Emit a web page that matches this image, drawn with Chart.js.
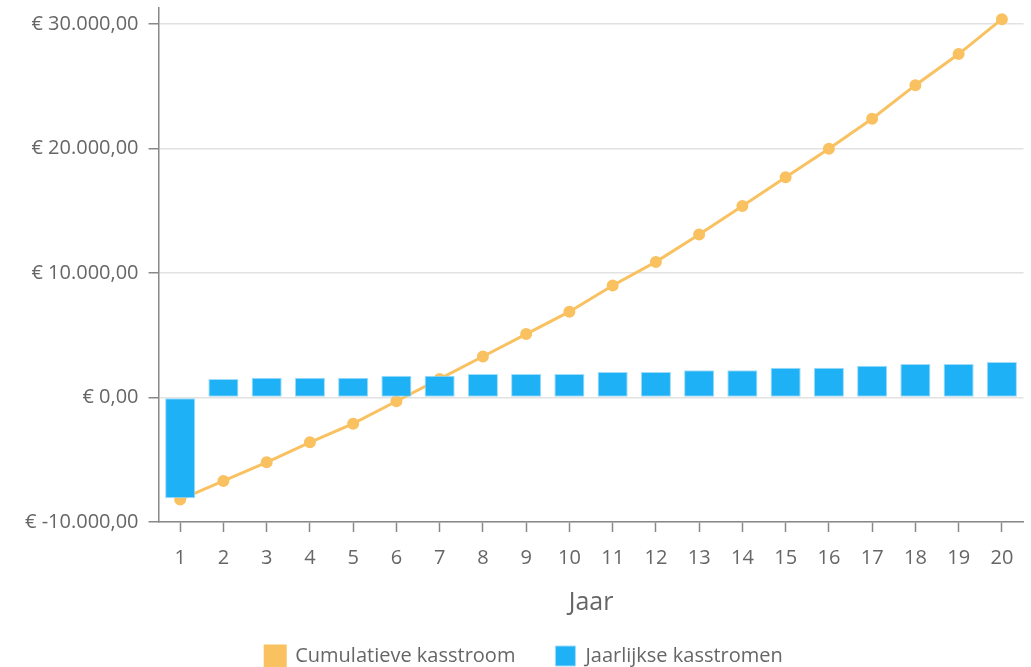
<!DOCTYPE html>
<html>
<head>
<meta charset="utf-8">
<script src="https://cdn.jsdelivr.net/npm/chart.js@4.4.1/dist/chart.umd.min.js"></script>
<style>
  html, body { margin: 0; padding: 0; background: #fff; }
  #wrap { width: 1031px; height: 667px; position: relative; }
</style>
</head>
<body>
<div id="wrap"><canvas id="cashChart"></canvas></div>
<script>
// Kasstromen per jaar
const years = ['1', '2', '3', '4', '5', '6', '7', '8', '9', '10',
  '11', '12', '13', '14', '15', '16', '17', '18', '19', '20'];

const cumulative = [-8200, -6700, -5200, -3600, -2100, -300, 1500, 3300, 5100, 6900,
  9000, 10900, 13100, 15400, 17700, 20000, 22400, 25100, 27600, 30400];

const yearly = [-8100, 1500, 1600, 1600, 1600, 1750, 1750, 1900, 1900, 1900,
  2050, 2050, 2200, 2200, 2400, 2400, 2550, 2700, 2700, 2850];

const yTickValues = [-10000, 0, 10000, 20000, 30000];

const orange = '#F9C160';
const blue = '#1EB1F5';
const greyText = '#666666';

function euro(v) {
  const neg = v < 0;
  const parts = Math.abs(v).toFixed(2).split('.');
  const intPart = parts[0].replace(/\B(?=(\d{3})+(?!\d))/g, '.');
  return '€ ' + (neg ? '-' : '') + intPart + ',' + parts[1];
}

Chart.defaults.font.family = '"Open Sans", "Noto Sans", sans-serif';
Chart.defaults.font.size = 20;
Chart.defaults.color = greyText;

const ctx = document.getElementById('cashChart').getContext('2d');
new Chart(ctx, {
  type: 'bar',
  data: {
    labels: years,
    datasets: [
      {
        type: 'line',
        label: 'Cumulatieve kasstroom',
        data: cumulative,
        borderColor: orange,
        backgroundColor: orange,
        pointBackgroundColor: orange,
        pointBorderColor: orange,
        pointRadius: 4.5,
        borderWidth: 3,
        tension: 0,
        order: 2
      },
      {
        type: 'bar',
        label: 'Jaarlijkse kasstromen',
        data: yearly,
        backgroundColor: blue,
        borderColor: '#9fdcfa',
        borderWidth: 1,
        borderSkipped: false,
        categoryPercentage: 0.8,
        barPercentage: 0.87,
        order: 1
      }
    ]
  },
  options: {
    responsive: true,
    maintainAspectRatio: false,
    animation: false,
    layout: {
      padding: { left: 15, right: -2, top: 8, bottom: -9 }
    },
    scales: {
      x: {
        offset: true,
        grid: {
          offset: false,
          drawOnChartArea: false,
          tickLength: 10,
          tickColor: '#888',
          tickWidth: 1.5
        },
        border: { color: '#888', width: 1.5 },
        ticks: { color: greyText, padding: 14 },
        title: {
          display: true,
          text: 'Jaar',
          color: greyText,
          font: { size: 25 },
          padding: { top: 4, bottom: -12 }
        }
      },
      y: {
        min: -10000,
        max: 31300,
        afterBuildTicks: function(scale) {
          scale.ticks = yTickValues.map(v => ({ value: v }));
        },
        afterFit: function(scale) {
          // top label is not at the edge, so no room needed above the axis
          scale.paddingTop = 0;
        },
        grid: {
          color: '#e2e2e2',
          lineWidth: 1.5,
          tickLength: 10,
          tickColor: '#888',
          tickWidth: 1.5
        },
        border: { color: '#888', width: 1.5 },
        ticks: {
          color: greyText,
          padding: 10,
          callback: function(value) { return euro(value); }
        }
      }
    },
    plugins: {
      legend: {
        position: 'bottom',
        labels: {
          boxWidth: 20,
          boxHeight: 20,
          padding: 40,
          color: greyText,
          font: { size: 20 },
          sort: (a, b) => a.datasetIndex - b.datasetIndex
        }
      },
      tooltip: { enabled: false }
    }
  }
});
</script>
</body>
</html>
